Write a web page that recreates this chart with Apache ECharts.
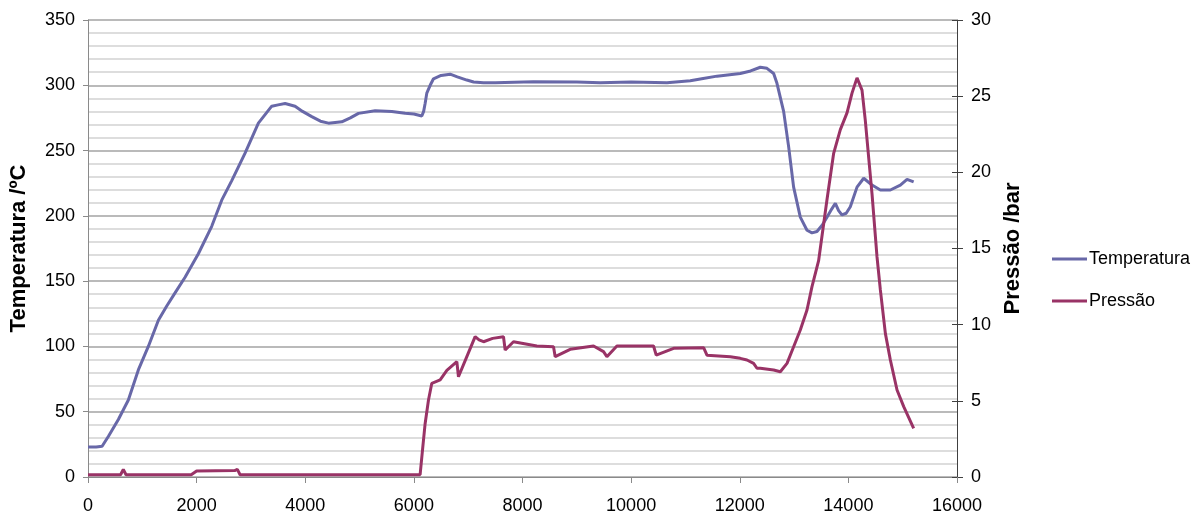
<!DOCTYPE html>
<html>
<head>
<meta charset="utf-8">
<script src="https://cdn.jsdelivr.net/npm/echarts@6/dist/echarts.min.js"></script>
<style>
  html, body { margin: 0; padding: 0; background: #fff; }
  #chart { width: 1203px; height: 522px; }
</style>
</head>
<body>
<div id="chart"></div>
<script>
// Time axis (s) and temperature readings (°C)
const tempTime = [0, 150, 260, 374, 559, 743, 927, 1111, 1296, 1450, 1603, 1787, 2032, 2278, 2462, 2647, 2892, 3137, 3383, 3500, 3629, 3813, 3950, 4120, 4280, 4427, 4673, 4830, 4980, 5287, 5594, 5839, 6000, 6146, 6180, 6207, 6238, 6300, 6361, 6500, 6668, 6800, 6975, 7100, 7282, 7500, 8202, 9000, 9431, 10000, 10660, 11089, 11300, 11580, 12010, 12200, 12378, 12501, 12624, 12685, 12808, 12900, 12992, 13115, 13238, 13330, 13422, 13520, 13606, 13690, 13760, 13820, 13883, 13960, 14036, 14159, 14282, 14435, 14589, 14773, 14957, 15080, 15202];
const tempValue = [23, 23, 23.5, 31, 44, 59, 82, 100, 120, 131, 141, 153, 171, 192, 212, 227, 248, 271, 284, 285, 286, 284, 280, 276, 272.5, 271, 272, 275, 278.5, 280.5, 280, 278.5, 278, 276.5, 280, 286, 294, 300, 305, 307.5, 308.5, 306.5, 304, 302.5, 302, 302, 302.8, 302.5, 302, 302.5, 302, 303.5, 305, 307, 309, 311, 313.8, 313, 309, 301.5, 280, 253, 222, 199, 189, 187, 188, 193, 199, 205, 209.6, 204, 200.7, 202, 207, 222, 228.8, 223.6, 219.8, 219.8, 223.6, 228, 226];

// Time axis (s) and pressure readings (bar)
const pressTime = [0, 600, 650, 700, 1900, 2000, 2700, 2750, 2800, 6115, 6165, 6207, 6269, 6330, 6484, 6607, 6791, 6821, 6975, 7128, 7200, 7282, 7450, 7650, 7681, 7834, 8264, 8571, 8602, 8878, 9308, 9492, 9554, 9738, 10413, 10462, 10782, 11335, 11396, 11826, 12010, 12133, 12255, 12317, 12378, 12624, 12747, 12870, 12992, 13115, 13238, 13330, 13452, 13606, 13729, 13852, 13975, 14067, 14159, 14251, 14312, 14373, 14435, 14527, 14589, 14681, 14773, 14896, 15019, 15202];
const pressValue = [0.15, 0.15, 0.5, 0.15, 0.15, 0.4, 0.42, 0.5, 0.15, 0.15, 2.0, 3.5, 5.05, 6.15, 6.37, 7.0, 7.57, 6.58, 7.9, 9.21, 9.0, 8.88, 9.1, 9.21, 8.34, 8.88, 8.6, 8.55, 7.9, 8.38, 8.6, 8.23, 7.9, 8.6, 8.6, 8.0, 8.45, 8.49, 8.0, 7.9, 7.79, 7.68, 7.46, 7.14, 7.14, 7.02, 6.91, 7.46, 8.55, 9.65, 10.96, 12.5, 14.2, 18.2, 21.25, 22.8, 23.9, 25.2, 26.2, 25.4, 23.4, 21.0, 18.6, 14.46, 12.28, 9.43, 7.68, 5.71, 4.62, 3.2];

const seriesNames = ['Temperatura', 'Pressão'];
const axisTitles = ['Temperatura /ºC', 'Pressão /bar'];

const FONT = "'Liberation Sans', Arial, sans-serif";
const tempColor = '#6868a8';
const pressColor = '#993366';

const zip = (xs, ys) => xs.map((x, i) => [x, ys[i]]);

const chart = echarts.init(document.getElementById('chart'), null, { renderer: 'canvas' });

chart.setOption({
  animation: false,
  backgroundColor: '#ffffff',
  textStyle: { fontFamily: FONT },
  grid: { left: 88, right: 246, top: 20, bottom: 45, containLabel: false, outerBoundsMode: 'none' },
  legend: {
    orient: 'vertical',
    left: 1047,
    top: 245,
    itemWidth: 35,
    itemHeight: 3,
    itemGap: 24,
    icon: 'rect',
    textStyle: { fontFamily: FONT, fontSize: 18, color: '#000', padding: [0, 0, 0, -3] },
    data: seriesNames
  },
  xAxis: {
    type: 'value',
    min: 0,
    max: 16000,
    interval: 2000,
    axisLine: { show: true, lineStyle: { color: '#8a8a8a', width: 1 } },
    axisTick: { show: true, length: 6, lineStyle: { color: '#8a8a8a' } },
    axisLabel: { fontFamily: FONT, fontSize: 18, color: '#000', margin: 20, formatter: v => String(v) },
    splitLine: { show: false }
  },
  yAxis: [
    {
      type: 'value',
      min: 0,
      max: 350,
      interval: 50,
      name: axisTitles[0],
      nameLocation: 'middle',
      nameGap: 58,
      nameTextStyle: { fontFamily: FONT, fontSize: 22, fontWeight: 'bold', color: '#000' },
      axisLine: { show: true, lineStyle: { color: '#8a8a8a', width: 1 } },
      axisTick: { show: true, length: 5, lineStyle: { color: '#8a8a8a' } },
      axisLabel: { fontFamily: FONT, fontSize: 18, color: '#000', margin: 13 },
      splitLine: { show: true, lineStyle: { color: '#a3a3a3', width: 1.5 } },
      minorTick: { show: false, splitNumber: 5 },
      minorSplitLine: { show: true, lineStyle: { color: '#d2d2d2', width: 1.5 } }
    },
    {
      type: 'value',
      min: 0,
      max: 30,
      interval: 5,
      position: 'right',
      name: axisTitles[1],
      nameLocation: 'middle',
      nameGap: 42,
      nameRotate: 90,
      nameTextStyle: { fontFamily: FONT, fontSize: 22, fontWeight: 'bold', color: '#000' },
      axisLine: { show: true, lineStyle: { color: '#404040', width: 1 } },
      axisTick: { show: true, length: 6, lineStyle: { color: '#404040' } },
      axisLabel: { fontFamily: FONT, fontSize: 18, color: '#000', margin: 14 },
      splitLine: { show: false }
    },
    {
      // inner half of the crossing ticks on the pressure axis
      type: 'value',
      min: 0,
      max: 30,
      interval: 5,
      position: 'right',
      axisLine: { show: false },
      axisTick: { show: true, inside: true, length: 5, lineStyle: { color: '#404040' } },
      axisLabel: { show: false },
      splitLine: { show: false }
    }
  ],
  series: [
    {
      name: seriesNames[0],
      type: 'line',
      yAxisIndex: 0,
      showSymbol: false,
      symbol: 'none',
      lineStyle: { color: tempColor, width: 3 },
      itemStyle: { color: tempColor },
      data: zip(tempTime, tempValue)
    },
    {
      name: seriesNames[1],
      type: 'line',
      yAxisIndex: 1,
      showSymbol: false,
      symbol: 'none',
      lineStyle: { color: pressColor, width: 3 },
      itemStyle: { color: pressColor },
      data: zip(pressTime, pressValue)
    }
  ]
});
</script>
</body>
</html>
